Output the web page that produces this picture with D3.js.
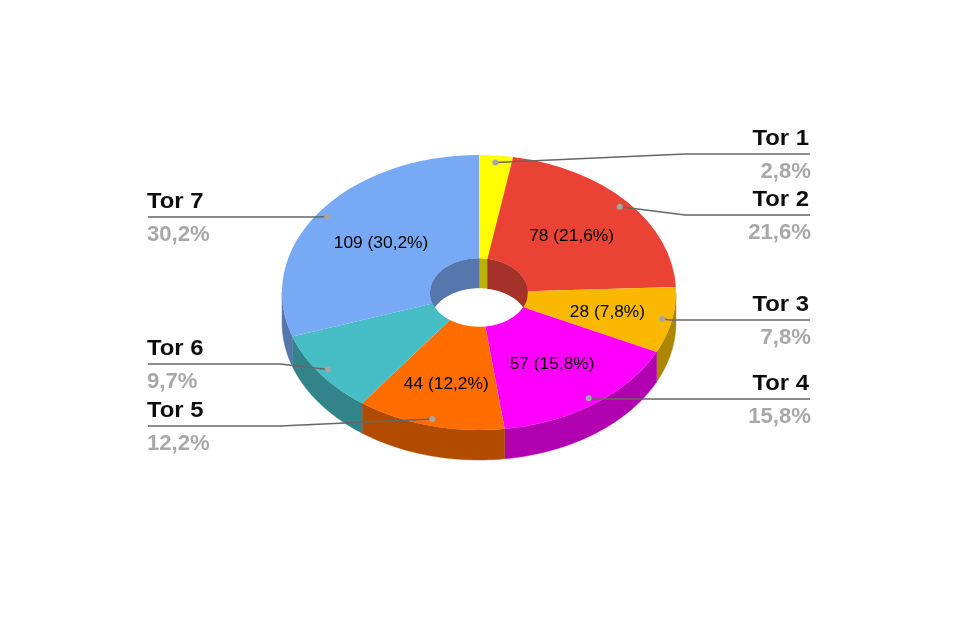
<!DOCTYPE html>
<html><head><meta charset="utf-8">
<script src="https://cdn.jsdelivr.net/npm/d3@7/dist/d3.min.js"></script>
<style>html,body{margin:0;padding:0;background:#fff}svg{display:block}text{font-family:"Liberation Sans",Arial,sans-serif}</style>
</head><body><svg id="c" width="960" height="640"></svg>
<script>
const categories = ["Tor 1","Tor 2","Tor 3","Tor 4","Tor 5","Tor 6","Tor 7"];
const values = [10,78,28,57,44,35,109];
const percentLabels = ["2,8%","21,6%","7,8%","15,8%","12,2%","9,7%","30,2%"];
const sliceLabels = [null,"78 (21,6%)","28 (7,8%)","57 (15,8%)","44 (12,2%)",null,"109 (30,2%)"];
const topColors = ["#ffff00","#ea4335","#fbb804","#ff00ff","#ff6d01","#46bdc6","#78a9f5"];
const wallColors = ["#b8b400","#a5302a","#ad8605","#b000b0","#b04c00","#318489","#5677ac"];

// layout (not data)
const cx=479, cy=292.5, rx=197, ry=137.5, holeR=49, depth=30, k=ry/rx;
const labelSide = ["right","right","right","right","left","left","left"];
const ruleY = [154,215,320,399,426,364,217];
const elbowX = [685,685,null,null,280,280,null];
const labelNudge = [[0,0],[0,-1],[8,2],[1,1],[-2,8],[0,0],[2,0]];

const svg=d3.select("#c");
const defs=svg.append("defs");
defs.append("filter").attr("id","soft")
  .attr("filterUnits","userSpaceOnUse").attr("x",0).attr("y",0).attr("width",960).attr("height",640)
  .append("feGaussianBlur").attr("stdDeviation",0.45);
const root=svg.append("g").attr("filter","url(#soft)");

const pie=d3.pie().sort(null).value(d=>d).padAngle(0);
const arcs=pie(values);
const pt=(r,a,dy=0)=>[cx+r*Math.sin(a), cy-r*k*Math.cos(a)+dy];
const line=d3.line();
function wall(r,a0,a1){
  const n=Math.max(2,Math.ceil((a1-a0)/0.02));
  const as=d3.range(n+1).map(i=>a0+(a1-a0)*i/n);
  const pts=as.map(a=>pt(r,a)).concat(as.slice().reverse().map(a=>pt(r,a,depth)));
  return line(pts)+"Z";
}
const HALF=Math.PI/2, TAU=Math.PI*2;

// hole back wall
const holeG=root.append("g");
arcs.forEach((d,i)=>{
  const segs=[[Math.max(d.startAngle,0),Math.min(d.endAngle,HALF)],[Math.max(d.startAngle,TAU-HALF),Math.min(d.endAngle,TAU)]];
  segs.filter(s=>s[1]>s[0]).forEach(s=>holeG.append("path").attr("d",wall(holeR,s[0],s[1])).attr("fill",wallColors[i]).attr("stroke",wallColors[i]).attr("stroke-width",.4));
});
// hole opening floor
root.append("ellipse").attr("cx",cx).attr("cy",cy+depth).attr("rx",holeR).attr("ry",holeR*k).attr("fill","#fff");

// outer wall
arcs.forEach((d,i)=>{
  const a0=Math.max(d.startAngle,HALF), a1=Math.min(d.endAngle,TAU-HALF);
  if(a1>a0) root.append("path").attr("d",wall(rx,a0,a1)).attr("fill",wallColors[i]).attr("stroke",wallColors[i]).attr("stroke-width",.4);
});

// top faces
const arc=d3.arc().innerRadius(holeR).outerRadius(rx);
root.append("g").attr("transform",`translate(${cx},${cy}) scale(1,${k})`)
  .selectAll("path").data(arcs).join("path")
  .attr("d",arc).attr("fill",(d,i)=>topColors[i]);

// slice labels
arcs.forEach((d,i)=>{
  if(!sliceLabels[i])return;
  const m=(d.startAngle+d.endAngle)/2, p=pt(123,m);
  root.append("text").attr("transform",`translate(${p[0]+labelNudge[i][0]},${p[1]+labelNudge[i][1]+5.5}) scale(1.085,1)`)
    .attr("text-anchor","middle").attr("font-size",16).attr("fill","#000").text(sliceLabels[i]);
});

// leaders and outside labels
arcs.forEach((d,i)=>{
  const m=(d.startAngle+d.endAngle)/2, p=pt(187,m), right=labelSide[i]==="right";
  const endX=right?810:148, y=ruleY[i];
  const pts=[p]; if(elbowX[i]!==null)pts.push([elbowX[i],y]); else pts.push([p[0]+(right?8:-8),y]);
  pts.push([endX,y]);
  root.append("path").attr("d",line(pts)).attr("fill","none").attr("stroke","#666").attr("stroke-width",1.5);
  root.append("circle").attr("cx",p[0]).attr("cy",p[1]).attr("r",3).attr("fill","#a6a6a6");
  const tx=right?809:147, anchor=right?"end":"start";
  root.append("text").attr("transform",`translate(${tx},${y-9}) scale(1.11,1)`).attr("text-anchor",anchor).attr("font-size",21.5).attr("font-weight","bold").attr("fill","#111").text(categories[i]);
  root.append("text").attr("transform",`translate(${tx+(right?2:0)},${y+24}) scale(1.03,1)`).attr("text-anchor",anchor).attr("font-size",21.5).attr("font-weight","bold").attr("fill","#a8a8a8").text(percentLabels[i]);
});
</script></body></html>
